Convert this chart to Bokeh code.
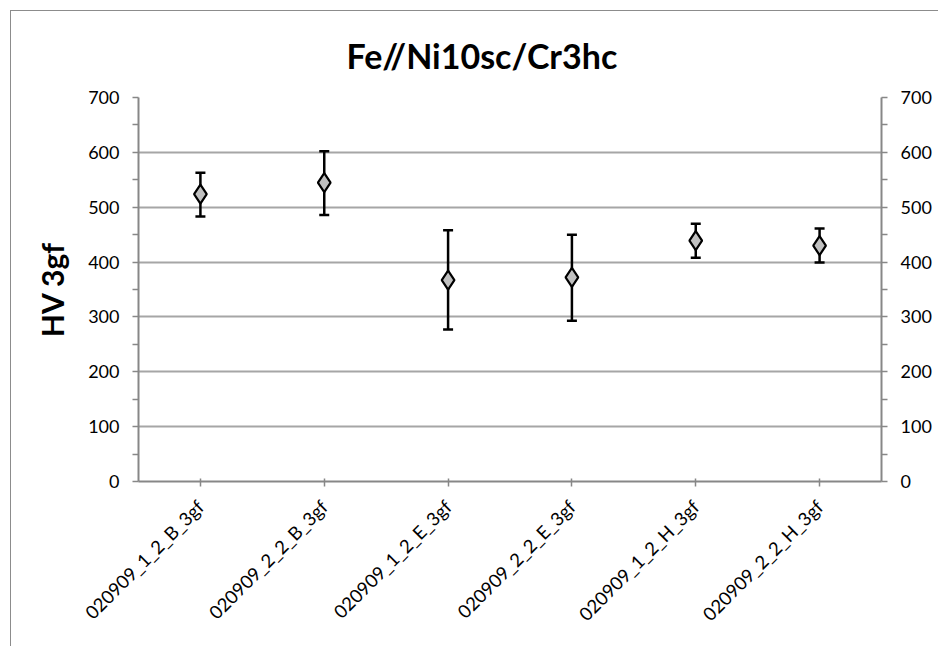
from bokeh.plotting import figure
from bokeh.models import (FixedTicker, LinearAxis, Range1d, Whisker, TeeHead,
                          ColumnDataSource, Title)
from bokeh.embed import file_html
from bokeh.resources import INLINE

categories = ["020909_1_2_B_3gf", "020909_2_2_B_3gf", "020909_1_2_E_3gf",
              "020909_2_2_E_3gf", "020909_1_2_H_3gf", "020909_2_2_H_3gf"]
means = [524, 545, 367, 372, 439, 430]
upper = [563, 602, 458, 450, 470, 461]
lower = [483, 486, 277, 293, 408, 399]
y_ticks = [0, 100, 200, 300, 400, 500, 600, 700]
y_minor = [50, 150, 250, 350, 450, 550, 650]

FONT = "Lato"
GRID = "#a6a6a6"
AX = "#878787"

xs = list(range(1, len(categories) + 1))
src = ColumnDataSource(dict(x=xs, y=means, up=upper, lo=lower))

p = figure(width=928, height=636, output_backend="svg", toolbar_location=None,
           x_range=Range1d(0.5, len(categories) + 0.5), y_range=Range1d(0, 700),
           min_border_left=127, min_border_right=58, min_border_top=86,
           min_border_bottom=166)
p.margin = (10, 0, 0, 10)
p.styles = {"border-left": "1.5px solid #8c8c8c", "border-top": "1.5px solid #8c8c8c"}
p.outline_line_color = None
p.background_fill_color = "white"
p.border_fill_color = "white"

t = Title(text="Fe//Ni10sc/Cr3hc", align="left", text_font=FONT,
          text_font_size="34px", text_font_style="bold", text_color="black",
          offset=208, standoff=43)
p.add_layout(t, "above")

# x axis
xa = p.xaxis[0]
xa.ticker = FixedTicker(ticks=xs)
xa.major_label_overrides = {i: c for i, c in zip(xs, categories)}
xa.major_label_orientation = 0.785398
xa.major_label_text_font = FONT
xa.major_label_text_font_size = "18.5px"
xa.major_label_text_color = "black"
xa.axis_line_color = AX
xa.axis_line_width = 2
xa.major_tick_line_color = AX
xa.major_tick_line_width = 1.5
xa.major_tick_out = 5
xa.major_tick_in = 3
xa.minor_tick_line_color = None
xa.major_label_standoff = 17

# left y axis
ya = p.yaxis[0]
ya.ticker = FixedTicker(ticks=y_ticks, minor_ticks=y_minor)
ya.axis_label = "HV 3gf"
ya.axis_label_text_font = FONT
ya.axis_label_text_font_size = "30px"
ya.axis_label_text_font_style = "bold"
ya.axis_label_text_color = "black"
ya.axis_label_standoff = 15

ra = LinearAxis(ticker=FixedTicker(ticks=y_ticks, minor_ticks=y_minor))
p.add_layout(ra, "right")

for a in [ya, ra]:
    a.major_label_text_font = FONT
    a.major_label_text_font_size = "18px"
    a.major_label_text_color = "black"
    a.axis_line_color = AX
    a.axis_line_width = 2
    a.major_tick_line_color = AX
    a.major_tick_line_width = 1.5
    a.minor_tick_line_color = AX
    a.minor_tick_line_width = 1.5
    a.major_tick_out = 6
    a.major_tick_in = 0
    a.minor_tick_out = 6
    a.minor_tick_in = 0
    a.major_label_standoff = 13

p.xgrid.grid_line_color = None
p.ygrid.ticker = FixedTicker(ticks=y_ticks[1:])
p.ygrid.grid_line_color = GRID
p.ygrid.grid_line_width = 1.8

w = Whisker(source=src, base="x", upper="up", lower="lo", dimension="height",
            line_color="black", line_width=2.5,
            upper_head=TeeHead(size=10, line_color="black", line_width=2.5),
            lower_head=TeeHead(size=10, line_color="black", line_width=2.5))
p.add_layout(w)

p.scatter("x", "y", source=src, marker="diamond", size=19,
          fill_color="#c0c0c0", line_color="black", line_width=2.2)

open("out.html", "w").write(file_html(p, INLINE))
